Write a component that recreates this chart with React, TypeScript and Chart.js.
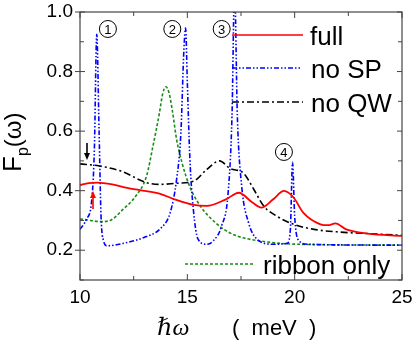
import React, { useEffect, useRef } from "react";
import { Chart, registerables } from "chart.js";

Chart.register(...registerables);

// ---- data ----
const xRange = [10, 25];
const yRange = [0.1, 1.0];
const xTickLabels = [10, 15, 20, 25];
const yTickLabels = [0.2, 0.4, 0.6, 0.8, 1.0];

const fullX = [10, 10.4, 10.8, 11.5, 12.2, 12.5, 13.7, 14.4, 15.3, 15.9, 16.8, 17.4, 18.0, 18.45, 19.0, 19.5, 19.95, 20.4, 21.2, 21.55, 21.9, 22.4, 23.4, 25];
const fullY = [0.419, 0.425, 0.427, 0.421, 0.409, 0.405, 0.39, 0.371, 0.352, 0.349, 0.371, 0.393, 0.362, 0.343, 0.371, 0.399, 0.377, 0.326, 0.287, 0.284, 0.29, 0.27, 0.256, 0.248];

const noSPX = [10, 10.3, 10.55, 10.67, 10.78, 10.89, 10.98, 11.1, 11.25, 12.2, 12.95, 13.75, 14.2, 14.5, 14.7, 14.84, 14.92, 15.0, 15.12, 15.28, 15.5, 15.9, 16.2, 16.6, 16.9, 17.08, 17.2, 17.33, 17.53, 17.85, 18.25, 19.0, 19.65, 19.8, 19.9, 20.0, 20.15, 20.6, 25];
const noSPY = [0.27, 0.304, 0.371, 0.54, 0.925, 0.595, 0.315, 0.231, 0.215, 0.226, 0.242, 0.273, 0.326, 0.438, 0.594, 0.874, 0.946, 0.762, 0.505, 0.337, 0.237, 0.22, 0.231, 0.282, 0.393, 0.65, 1.08, 0.65, 0.416, 0.293, 0.237, 0.22, 0.223, 0.27, 0.495, 0.315, 0.237, 0.22, 0.217];

const noQWX = [10, 10.9, 11.9, 13.1, 13.7, 14.5, 15.3, 15.9, 16.5, 17.0, 17.6, 18.1, 18.55, 19.15, 19.95, 20.9, 22.1, 23.4, 25];
const noQWY = [0.49, 0.483, 0.466, 0.427, 0.421, 0.425, 0.432, 0.471, 0.5, 0.474, 0.46, 0.404, 0.349, 0.315, 0.287, 0.27, 0.261, 0.256, 0.25];

const ribbonX = [10, 10.5, 10.95, 11.4, 12.0, 12.6, 13.1, 13.4, 13.7, 13.85, 14.0, 14.15, 14.3, 14.5, 14.75, 15.1, 15.6, 16.4, 17.1, 18.4, 20.2, 25];
const ribbonY = [0.305, 0.3, 0.296, 0.3, 0.337, 0.382, 0.449, 0.55, 0.661, 0.725, 0.749, 0.728, 0.67, 0.572, 0.494, 0.416, 0.349, 0.287, 0.254, 0.231, 0.22, 0.217];

const seriesNames = ["full", "no SP", "no QW", "ribbon only"];
const peakLabels = ["1", "2", "3", "4"];
const peakX = [11.3, 14.3, 16.6, 19.5];
const peakY = [0.943, 0.943, 0.943, 0.53];

const SANS = "'Liberation Sans', Arial, sans-serif";

const toPts = (xs: number[], ys: number[]) => xs.map((x, i) => ({ x, y: ys[i] }));

const decor = {
  id: "decor",
  afterDraw(chart: any) {
    const { ctx, chartArea: a, scales } = chart;
    const x = scales.x;
    const y = scales.y;
    ctx.save();
    const seg = (x1: number, y1: number, x2: number, y2: number) => {
      ctx.beginPath();
      ctx.moveTo(x1, y1);
      ctx.lineTo(x2, y2);
      ctx.stroke();
    };
    // frame
    ctx.setLineDash([]);
    ctx.strokeStyle = "#444";
    ctx.lineWidth = 1.2;
    ctx.strokeRect(a.left, a.top, a.right - a.left, a.bottom - a.top);
    // ticks
    ctx.lineWidth = 1;
    for (let i = 0; i <= 6; i++) {
      const v = 10 + i * 2.5;
      const px = x.getPixelForValue(v);
      const major = i % 2 === 0;
      const len = major ? 6 : 4;
      seg(px, a.bottom, px, a.bottom - len);
      seg(px, a.top, px, a.top + len);
    }
    for (let i = 1; i <= 10; i++) {
      const v = i / 10;
      const py = y.getPixelForValue(v);
      const major = i % 2 === 0;
      const len = major ? 5 : 4;
      seg(a.left, py, a.left + len, py);
      if (major) seg(a.left - 5, py, a.left, py);
      seg(a.right, py, a.right - len, py);
    }

    // legend
    const legend = [
      { name: seriesNames[0], color: "#ff0000", dash: [], x1: 232, x2: 303, ly: 35, tx: 310 },
      { name: seriesNames[1], color: "#0000ff", dash: [5, 2, 1.5, 2, 1.5, 2], x1: 232, x2: 301, ly: 68, tx: 311 },
      { name: seriesNames[2], color: "#000000", dash: [7, 3, 2, 3], x1: 232, x2: 303, ly: 102, tx: 311 },
      { name: seriesNames[3], color: "#1a8c1a", dash: [3, 2], x1: 185, x2: 255, ly: 264, tx: 263 },
    ];
    ctx.font = `26px ${SANS}`;
    ctx.textBaseline = "alphabetic";
    ctx.textAlign = "left";
    legend.forEach((l) => {
      ctx.strokeStyle = l.color;
      ctx.lineWidth = 1.6;
      ctx.setLineDash(l.dash);
      seg(l.x1, l.ly, l.x2, l.ly);
      ctx.setLineDash([]);
      ctx.fillStyle = "#000";
      ctx.fillText(l.name, l.tx, l.ly + 10);
    });

    // circled numbers
    ctx.lineWidth = 1;
    ctx.strokeStyle = "#000";
    ctx.font = `13px ${SANS}`;
    ctx.textAlign = "center";
    ctx.textBaseline = "middle";
    peakLabels.forEach((t, i) => {
      const cx = x.getPixelForValue(peakX[i]);
      const cy = y.getPixelForValue(peakY[i]);
      ctx.beginPath();
      ctx.arc(cx, cy, 8.5, 0, Math.PI * 2);
      ctx.stroke();
      ctx.fillText(t, cx, cy + 1);
    });

    // arrows
    const arrow = (ax: number, y1: number, y2: number, color: string) => {
      ctx.strokeStyle = color;
      ctx.fillStyle = color;
      ctx.lineWidth = 1.6;
      const dir = y2 > y1 ? 1 : -1;
      seg(ax, y1, ax, y2 - dir * 5);
      ctx.beginPath();
      ctx.moveTo(ax, y2);
      ctx.lineTo(ax - 3, y2 - dir * 7);
      ctx.lineTo(ax + 3, y2 - dir * 7);
      ctx.closePath();
      ctx.fill();
    };
    arrow(87, 143, 160, "#000");
    arrow(93, 209, 191, "#ff0000");

    // y-axis title F_p(ω)
    ctx.save();
    ctx.translate(21, 172);
    ctx.rotate(-Math.PI / 2);
    ctx.fillStyle = "#000";
    ctx.textAlign = "left";
    ctx.textBaseline = "alphabetic";
    ctx.font = `26px ${SANS}`;
    ctx.fillText("F", 0, 0);
    let w = ctx.measureText("F").width;
    ctx.font = `16px ${SANS}`;
    ctx.fillText("p", w, 7);
    w += ctx.measureText("p").width;
    ctx.font = `24px ${SANS}`;
    ctx.fillText("(ω)", w, 0);
    ctx.restore();

    // x-axis title
    ctx.fillStyle = "#000";
    ctx.textAlign = "left";
    ctx.textBaseline = "alphabetic";
    ctx.font = `italic 24px 'Liberation Serif', 'DejaVu Serif', serif`;
    ctx.fillText("ℏω", 157, 335);
    ctx.font = `22px ${SANS}`;
    ctx.fillText("(  meV  )", 232, 335);

    ctx.restore();
  },
};

export default function App() {
  const ref = useRef<HTMLCanvasElement | null>(null);
  useEffect(() => {
    document.body.style.margin = "0";
    if (!ref.current) return;
    const common = { pointRadius: 0, fill: false, cubicInterpolationMode: "monotone" as const, borderWidth: 1.6 };
    const chart = new Chart(ref.current, {
      type: "line",
      data: {
        datasets: [
          { ...common, label: seriesNames[0], data: toPts(fullX, fullY), borderColor: "#ff0000", borderWidth: 1.8 },
          { ...common, label: seriesNames[1], data: toPts(noSPX, noSPY), borderColor: "#0000ff", borderDash: [5, 2, 1.5, 2, 1.5, 2] },
          { ...common, label: seriesNames[2], data: toPts(noQWX, noQWY), borderColor: "#000000", borderDash: [7, 3, 2, 3] },
          { ...common, label: seriesNames[3], data: toPts(ribbonX, ribbonY), borderColor: "#1a8c1a", borderDash: [3, 2] },
        ],
      },
      options: {
        animation: false,
        responsive: false,
        devicePixelRatio: 1,
        layout: { padding: { left: 0, right: 13, top: 12, bottom: 0 } },
        plugins: { legend: { display: false }, tooltip: { enabled: false } },
        scales: {
          x: {
            type: "linear",
            min: xRange[0],
            max: xRange[1],
            grid: { display: false, drawTicks: false },
            border: { display: false },
            ticks: {
              stepSize: 5,
              autoSkip: false,
              maxRotation: 0,
              padding: 6,
              color: "#000",
              font: { family: SANS, size: 19 },
              callback: (v: any) => (xTickLabels.includes(Number(v)) ? String(v) : ""),
            },
            afterFit: (s: any) => {
              s.height = 66;
              s.paddingLeft = 0;
              s.paddingRight = 0;
            },
          },
          y: {
            min: yRange[0],
            max: yRange[1],
            grid: { display: false, drawTicks: false },
            border: { display: false },
            ticks: {
              stepSize: 0.1,
              autoSkip: false,
              padding: 7,
              color: "#000",
              font: { family: SANS, size: 19 },
              callback: (v: any) => {
                const n = Math.round(Number(v) * 10) / 10;
                return yTickLabels.some((t) => Math.abs(t - n) < 1e-6) ? n.toFixed(1) : "";
              },
            },
            afterFit: (s: any) => {
              s.width = 80;
              s.paddingTop = 0;
              s.paddingBottom = 0;
            },
          },
        },
      },
      plugins: [decor],
    });
    return () => chart.destroy();
  }, []);
  return (
    <div style={{ width: 415, height: 346, position: "relative", background: "#fff" }}>
      <canvas ref={ref} width={415} height={346} style={{ display: "block" }} />
    </div>
  );
}
